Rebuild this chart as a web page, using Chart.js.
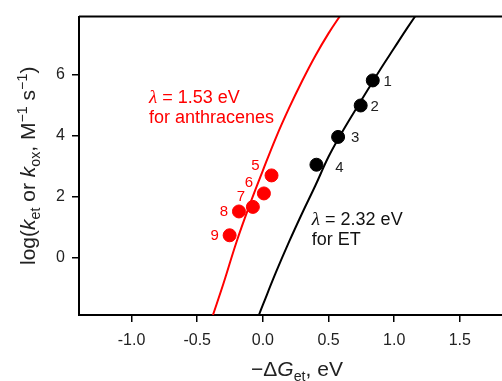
<!DOCTYPE html>
<html lang="en">
<head>
    <meta charset="UTF-8" />
    <title>Marcus plot</title>
    <script src="https://cdn.jsdelivr.net/npm/chart.js"></script>
    <style>
        html, body { margin: 0; padding: 0; background: #fff; overflow: hidden; }
        #wrap { width: 540px; height: 381px; }
    </style>
</head>
<body>
    <div id="wrap">
        <canvas id="marcusChart" width="540" height="381"></canvas>
    </div>

    <script>
        // data
        const blackX = [0.837, 0.745, 0.573, 0.408];
        const blackY = [5.80, 4.98, 3.95, 3.04];
        const blackNames = ["1", "2", "3", "4"];

        const redX = [0.066, 0.008, -0.076, -0.182, -0.253];
        const redY = [2.69, 2.10, 1.66, 1.51, 0.73];
        const redNames = ["5", "6", "7", "8", "9"];

        // fitted curves (lambda = 2.32 eV and 1.53 eV), sampled from the figure
        const etCurveX = [-0.03, 0.0, 0.1, 0.2, 0.3, 0.4, 0.5, 0.6, 0.7, 0.8, 0.9, 1.0, 1.1, 1.2];
        const etCurveY = [-1.88, -1.55, -0.48, 0.52, 1.46, 2.36, 3.30, 4.08, 4.80, 5.50, 6.20, 6.86, 7.52, 8.15];

        const anCurveX = [-0.38, -0.3, -0.2, -0.1, 0.0, 0.1, 0.2, 0.3, 0.4, 0.5, 0.6];
        const anCurveY = [-1.88, -0.85, 0.52, 1.73, 2.85, 3.93, 4.90, 5.79, 6.61, 7.34, 7.99];

        const xTickValues = [-1.0, -0.5, 0.0, 0.5, 1.0, 1.5];
        const yTickValues = [0, 2, 4, 6];

        const RED = "#ff0000";
        const SANS = "'Liberation Sans', Arial, sans-serif";

        const toXY = (xs, ys) => xs.map((x, i) => ({ x: x, y: ys[i] }));

        // offsets of the point numbers, px
        const blackNameOffsets = [[15, 1], [14, 1], [17, 1], [23, 3]];
        const redNameOffsets = [[-16, -10], [-15, -11], [-12, -10], [-15, 0], [-15, 1]];

        function drawRich(ctx, segs, size) {
            // segs: {t, italic, sub, sup}
            let w = 0;
            const parts = segs.map(s => {
                const fs = (s.sub || s.sup) ? size * 0.68 : size;
                const font = (s.italic ? "italic " : "") + fs + "px " + SANS;
                ctx.font = font;
                const pw = ctx.measureText(s.t).width;
                w += pw;
                return { s: s, font: font, w: pw, dy: s.sub ? size * 0.22 : (s.sup ? -size * 0.4 : 0) };
            });
            let x = -w / 2;
            parts.forEach(p => {
                ctx.font = p.font;
                ctx.fillText(p.s.t, x, p.dy);
                x += p.w;
            });
        }

        const extras = {
            id: "extras",
            afterDatasetsDraw(chart) {
                const ctx = chart.ctx;
                const area = chart.chartArea;
                const xs = chart.scales.x, ys = chart.scales.y;
                ctx.save();

                // top frame line
                ctx.strokeStyle = "#000";
                ctx.lineWidth = 2;
                ctx.beginPath();
                ctx.moveTo(area.left, area.top);
                ctx.lineTo(area.right, area.top);
                ctx.stroke();

                // point numbers
                ctx.font = "15px " + SANS;
                ctx.textAlign = "center";
                ctx.textBaseline = "middle";
                const label = (dsIndex, names, offs, color) => {
                    const meta = chart.getDatasetMeta(dsIndex);
                    ctx.fillStyle = color;
                    meta.data.forEach((el, i) => {
                        ctx.fillText(names[i], el.x + offs[i][0], el.y + offs[i][1]);
                    });
                };
                label(0, blackNames, blackNameOffsets, "#222");
                label(1, redNames, redNameOffsets, RED);

                // lambda annotations
                const lam = (txt, line2, xv, yv, color) => {
                    const px = xs.getPixelForValue(xv);
                    const py = ys.getPixelForValue(yv);
                    ctx.fillStyle = color;
                    ctx.textAlign = "left";
                    ctx.textBaseline = "middle";
                    ctx.font = "italic 19px 'Liberation Serif', serif";
                    ctx.fillText("\u03bb", px, py);
                    const lw = ctx.measureText("\u03bb").width;
                    ctx.font = "18px " + SANS;
                    ctx.fillText(txt, px + lw, py);
                    ctx.fillText(line2, px, py + 20);
                };
                lam(" = 1.53 eV", "for anthracenes", -0.867, 5.24, RED);
                lam(" = 2.32 eV", "for ET", 0.373, 1.23, "#111");

                // axis titles
                ctx.fillStyle = "#222";
                ctx.textAlign = "left";
                ctx.textBaseline = "alphabetic";
                ctx.save();
                ctx.translate((area.left + area.right) / 2, 376);
                drawRich(ctx, [
                    { t: "\u2212\u0394" },
                    { t: "G", italic: true },
                    { t: "et", sub: true },
                    { t: ", eV" }
                ], 21);
                ctx.restore();

                ctx.save();
                ctx.translate(35, (area.top + area.bottom) / 2);
                ctx.rotate(-Math.PI / 2);
                drawRich(ctx, [
                    { t: "log(" },
                    { t: "k", italic: true },
                    { t: "et", sub: true },
                    { t: " or " },
                    { t: "k", italic: true },
                    { t: "ox", sub: true },
                    { t: ", M" },
                    { t: "\u22121", sup: true },
                    { t: " s" },
                    { t: "\u22121", sup: true },
                    { t: ")" }
                ], 21);
                ctx.restore();

                ctx.restore();
            }
        };

        const ctxMarcus = document.getElementById("marcusChart").getContext("2d");
        const marcusChart = new Chart(ctxMarcus, {
            type: "scatter",
            data: {
                datasets: [
                    {
                        label: "ET",
                        data: toXY(blackX, blackY),
                        backgroundColor: "#000",
                        borderColor: "#000",
                        pointRadius: 6.5,
                        pointHoverRadius: 6.5,
                    },
                    {
                        label: "anthracenes",
                        data: toXY(redX, redY),
                        backgroundColor: RED,
                        borderColor: RED,
                        pointRadius: 6.5,
                        pointHoverRadius: 6.5,
                    },
                    {
                        label: "lambda 2.32",
                        data: toXY(etCurveX, etCurveY),
                        showLine: true,
                        borderColor: "#000",
                        borderWidth: 2,
                        pointRadius: 0,
                        tension: 0.4,
                    },
                    {
                        label: "lambda 1.53",
                        data: toXY(anCurveX, anCurveY),
                        showLine: true,
                        borderColor: RED,
                        borderWidth: 2,
                        pointRadius: 0,
                        tension: 0.4,
                    },
                ],
            },
            options: {
                responsive: false,
                animation: false,
                layout: { padding: { top: 13, right: 25, left: 0, bottom: 0 } },
                plugins: {
                    legend: { display: false },
                    tooltip: { enabled: false },
                },
                scales: {
                    x: {
                        type: "linear",
                        min: -1.4,
                        max: 1.92,
                        afterBuildTicks: (scale) => {
                            scale.ticks = xTickValues.map(v => ({ value: v }));
                        },
                        afterFit: (scale) => { scale.height = 66; },
                        grid: {
                            drawOnChartArea: false,
                            drawTicks: true,
                            tickLength: 7,
                            color: "#000",
                            lineWidth: 1.5,
                        },
                        border: { display: true, color: "#000", width: 2 },
                        ticks: {
                            color: "#222",
                            padding: 9,
                            maxRotation: 0,
                            font: { size: 16, family: SANS },
                            callback: (v) => Number(v).toFixed(1),
                        },
                    },
                    y: {
                        type: "linear",
                        min: -1.88,
                        max: 7.89,
                        afterBuildTicks: (scale) => {
                            scale.ticks = yTickValues.map(v => ({ value: v }));
                        },
                        afterFit: (scale) => { scale.width = 79; },
                        grid: {
                            drawOnChartArea: false,
                            drawTicks: true,
                            tickLength: 7,
                            color: "#000",
                            lineWidth: 1.5,
                        },
                        border: { display: true, color: "#000", width: 2 },
                        ticks: {
                            color: "#222",
                            padding: 7,
                            font: { size: 16, family: SANS },
                            callback: (v) => String(v),
                        },
                    },
                },
            },
            plugins: [extras],
        });
    </script>
</body>
</html>
